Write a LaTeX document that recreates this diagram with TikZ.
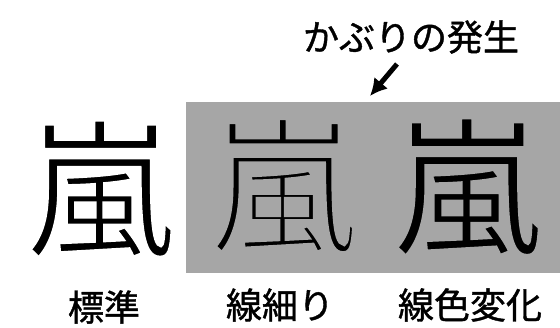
\documentclass[tikz,border=0pt]{standalone}
\usepackage{fontspec}
\usetikzlibrary{arrows.meta}
\newfontfamily\jp{Noto Sans CJK JP}
% thin a glyph by stroking its outline in the background colour
\newcommand{\thinglyph}[3]{\special{pdf:literal 2 Tr #1 w #2 G}#3\special{pdf:literal 0 Tr}}
\begin{document}
\begin{tikzpicture}[x=1pt,y=-1pt,
  kanji/.style={font=\jp\fontsize{148}{148}\selectfont, inner sep=0pt, text=black},
  label/.style={font=\jp\fontsize{36}{36}\selectfont, inner sep=0pt},
  fog/.style={fill=black!35, draw=none}]
\useasboundingbox (0,0) rectangle (560,328);
\fill[white] (0,0) rectangle (560,328);
\fill[fog] (186,102) rectangle (560,273);
\node[kanji] (k1) at (100,189) {\thinglyph{2.5}{1}{嵐}};
\node[kanji] (k2) at (283,186) {\thinglyph{5.5}{0.65}{嵐}};
\node[kanji] (k3) at (467,187) {\thinglyph{2}{0.65}{嵐}};
\node[label] (l1) at (104,307) {\thinglyph{0.4}{0}{標準}};
\node[label] (l2) at (280,305) {\thinglyph{0.4}{0}{線細り}};
\node[label] (l3) at (470,305) {\thinglyph{0.4}{0}{線色変化}};
\node[label] (t) at (411,37) {\thinglyph{0.4}{0}{かぶりの発生}};
\coordinate (a0) at (397,64);
\coordinate (a1) at (370,96);
\draw[line width=5pt, -{Latex[length=17pt,width=18pt]}] (a0) -- (a1);
\end{tikzpicture}
\end{document}
